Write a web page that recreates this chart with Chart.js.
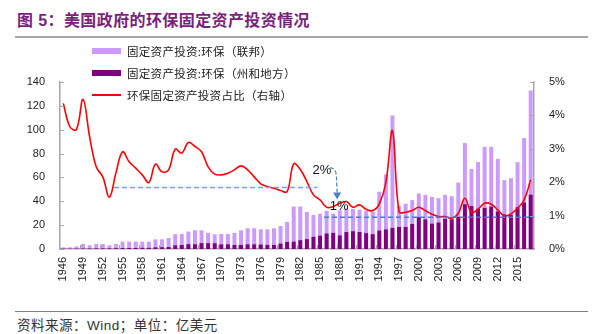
<!DOCTYPE html>
<html>
<head>
<meta charset="utf-8">
<script src="https://cdn.jsdelivr.net/npm/chart.js@4.4.1/dist/chart.umd.min.js"></script>
<style>
body { margin: 0; background: #fff; width: 596px; height: 334px; position: relative; overflow: hidden; font-family: "Liberation Sans", "Noto Sans CJK SC", sans-serif; }
#title { position: absolute; left: 17px; top: 7px; font-size: 16px; letter-spacing: 0.4px; font-weight: bold; color: #7b1f7f; white-space: nowrap; }
#titleLine { position: absolute; left: 15px; top: 36px; width: 573px; height: 2px; background: #a6a6a6; }
#footLine { position: absolute; left: 15px; top: 311px; width: 573px; height: 1px; background: #7f7f7f; }
#source { position: absolute; left: 17px; top: 314px; font-size: 13.5px; letter-spacing: 0.5px; color: #333; white-space: nowrap; }
#chartBox { position: absolute; left: 0; top: 40px; width: 596px; height: 262px; }
#legend { position: absolute; left: 92px; top: 40px; font-family: "Noto Sans CJK SC", sans-serif; font-size: 11.5px; letter-spacing: 0.3px; color: #222; }
.item { height: 22px; display: flex; align-items: center; white-space: nowrap; }
.sw { width: 29px; margin-right: 6px; }
</style>
</head>
<body>
<div id="title">图 5：美国政府的环保固定资产投资情况</div>
<div id="titleLine"></div>
<div id="chartBox"><canvas id="chart" width="596" height="262"></canvas></div>
<div id="legend"></div>
<div id="footLine"></div>
<div id="source">资料来源：Wind；单位：亿美元</div>
<script>
const years = [
  '1946','1947','1948','1949','1950','1951','1952','1953','1954','1955',
  '1956','1957','1958','1959','1960','1961','1962','1963','1964','1965',
  '1966','1967','1968','1969','1970','1971','1972','1973','1974','1975',
  '1976','1977','1978','1979','1980','1981','1982','1983','1984','1985',
  '1986','1987','1988','1989','1990','1991','1992','1993','1994','1995',
  '1996','1997','1998','1999','2000','2001','2002','2003','2004','2005',
  '2006','2007','2008','2009','2010','2011','2012','2013','2014','2015',
  '2016','2017'
];

// 固定资产投资:环保（联邦），亿美元
const federal = [
  1.4, 1.4, 2.2, 4.2, 3.1, 4.2, 4.2, 3.1, 4.2, 6.2,
  6.2, 6.2, 6.2, 6.2, 8.1, 8.1, 9.2, 12.4, 12.6, 14.6,
  15.7, 15.7, 13.5, 12.3, 12.6, 12.6, 13.5, 15.7, 17.4, 17.4,
  16.5, 16.5, 17.4, 19.3, 22.7, 35.6, 35.6, 31, 28.5, 29.5,
  32, 29.5, 32.5, 34, 33.5, 33, 32, 31.5, 48, 62.5,
  112, 36, 38, 41, 46.5, 45.4, 43.7, 42.6, 45.4, 44.3,
  55.7, 88.8, 67, 72.8, 85.7, 85.7, 75.6, 57.7, 59.4, 72.8,
  93, 132.8
];

// 固定资产投资:环保（州和地方），亿美元
const stateLocal = [
  0.3, 0.3, 0.4, 0.5, 0.5, 0.6, 0.6, 0.6, 0.7, 0.8,
  0.8, 0.9, 1.0, 1.0, 1.4, 1.5, 1.7, 3.1, 3.4, 4.0,
  4.0, 4.9, 4.9, 4.8, 3.9, 3.9, 3.4, 3.4, 3.9, 3.9,
  3.7, 3.4, 3.4, 4.5, 5.9, 6.2, 7.4, 8.3, 10.2, 11.1,
  13, 13.5, 11.4, 14.2, 14.9, 14.2, 13.3, 12.4, 15.4, 16.4,
  17.7, 18.5, 18.5, 21, 26.7, 24.8, 21.2, 22.2, 25.3, 24.8,
  27, 37.5, 36, 33.8, 34.5, 35.5, 31.5, 29, 28.5, 35,
  39, 45.5
];

// 环保固定资产投资占比（右轴），%
const share = [
  4.36, 3.66, 3.58, 4.48, 3.36, 2.46, 2.16, 1.55, 2.28, 2.91,
  2.61, 2.42, 2.22, 1.99, 2.54, 2.31, 2.37, 2.99, 2.87, 3.19,
  3.07, 2.91, 2.46, 2.24, 2.22, 2.27, 2.37, 2.49, 2.37, 2.16,
  1.95, 1.87, 1.82, 1.75, 1.72, 2.55, 2.38, 2.02, 1.62, 1.47,
  1.25, 1.27, 1.37, 1.42, 1.25, 1.32, 1.19, 1.15, 1.35, 1.99,
  3.54, 1.12, 1.10, 1.15, 1.25, 1.15, 1.04, 0.97, 0.97, 0.92,
  1.07, 1.52, 1.09, 1.19, 1.37, 1.34, 1.17, 0.99, 1.05, 1.22,
  1.47, 2.07
];

const leftTicks = [0, 20, 40, 60, 80, 100, 120, 140];
const rightTicks = [0, 1, 2, 3, 4, 5];

const seriesNames = ['固定资产投资:环保（联邦）', '固定资产投资:环保（州和地方）', '环保固定资产投资占比（右轴）'];
const colors = { federal: '#cc99ff', stateLocal: '#800080', share: '#ff0000', axis: '#a6a6a6' };

// annotations: [x index, value]
const guide1 = { value: 51.5, from: 7.7, to: 38.6 };   // left axis
const guide2 = { value: 0.95, from: 39.6 };            // right axis
const label2pct = { text: '2%', at: 39.3, value: 66 };
const label1pct = { text: '1%', at: 41.9, value: 36 };
const arrow = { from: [40.95, 68], to: [41.6, 41.5] };

// legend
const legend = document.getElementById('legend');
seriesNames.forEach((name, i) => {
    const row = document.createElement('div');
    row.className = 'item';
    const sw = document.createElement('span');
    sw.className = 'sw';
    if (i === 2) {
        sw.style.height = '2px';
        sw.style.background = colors.share;
    } else {
        sw.style.height = '6px';
        sw.style.background = i === 0 ? colors.federal : colors.stateLocal;
    }
    row.appendChild(sw);
    row.appendChild(document.createTextNode(name));
    legend.appendChild(row);
});

const notes = {
    id: 'notes',
    afterDatasetsDraw(chart) {
        const { ctx, chartArea } = chart;
        const { x, y, y1 } = chart.scales;
        ctx.save();

        // inner tick marks
        ctx.strokeStyle = colors.axis;
        ctx.lineWidth = 1;
        ctx.beginPath();
        leftTicks.forEach(v => {
            const py = Math.round(y.getPixelForValue(v)) + 0.5;
            ctx.moveTo(chartArea.left, py);
            ctx.lineTo(chartArea.left + 4, py);
        });
        rightTicks.forEach(v => {
            const py = Math.round(y1.getPixelForValue(v)) + 0.5;
            ctx.moveTo(chartArea.right - 4, py);
            ctx.lineTo(chartArea.right, py);
        });
        for (let i = 3; i < years.length; i += 3) {
            const px = Math.round(x.getPixelForValue(i - 0.5)) + 0.5;
            ctx.moveTo(px, chartArea.bottom);
            ctx.lineTo(px, chartArea.bottom - 4);
        }
        ctx.stroke();

        // dashed guides
        ctx.lineWidth = 1.5;
        ctx.setLineDash([5, 3]);
        ctx.strokeStyle = '#3dbde8';
        ctx.beginPath();
        let py = y.getPixelForValue(guide1.value);
        ctx.moveTo(x.getPixelForValue(guide1.from), py);
        ctx.lineTo(x.getPixelForValue(guide1.to), py);
        ctx.stroke();

        ctx.strokeStyle = '#2a8ad6';
        ctx.beginPath();
        py = y1.getPixelForValue(guide2.value);
        ctx.moveTo(x.getPixelForValue(guide2.from), py);
        ctx.lineTo(chartArea.right, py);
        ctx.stroke();

        // arrow
        const ax0 = x.getPixelForValue(arrow.from[0]), ay0 = y.getPixelForValue(arrow.from[1]);
        const ax1 = x.getPixelForValue(arrow.to[0]), ay1 = y.getPixelForValue(arrow.to[1]);
        ctx.strokeStyle = '#4f81bd';
        ctx.lineWidth = 1.2;
        ctx.setLineDash([4, 2]);
        ctx.beginPath();
        ctx.moveTo(ax0 - 3, ay0);
        ctx.quadraticCurveTo(ax0 + 3, ay0, ax0 + 3.5, ay0 + 8);
        ctx.lineTo(ax1, ay1 - 6);
        ctx.stroke();
        ctx.setLineDash([]);
        ctx.fillStyle = '#4f81bd';
        ctx.beginPath();
        ctx.moveTo(ax1 - 4, ay1 - 7);
        ctx.lineTo(ax1 + 4, ay1 - 7);
        ctx.lineTo(ax1, ay1);
        ctx.closePath();
        ctx.fill();

        // labels
        ctx.fillStyle = '#111';
        ctx.font = '13px "Liberation Sans", Arial, sans-serif';
        ctx.textAlign = 'center';
        ctx.textBaseline = 'middle';
        [label2pct, label1pct].forEach(l => {
            ctx.fillText(l.text, x.getPixelForValue(l.at), y.getPixelForValue(l.value));
        });
        ctx.restore();
    }
};

const tickFont = { family: '"Liberation Sans", Arial, sans-serif', size: 11 };

new Chart(document.getElementById('chart'), {
    type: 'bar',
    data: {
        labels: years,
        datasets: [
            {
                label: seriesNames[0],
                data: federal,
                backgroundColor: colors.federal,
                barPercentage: 0.6,
                categoryPercentage: 1,
                grouped: false,
                yAxisID: 'y',
                order: 2
            },
            {
                label: seriesNames[1],
                data: stateLocal,
                backgroundColor: colors.stateLocal,
                barPercentage: 0.6,
                categoryPercentage: 1,
                grouped: false,
                yAxisID: 'y',
                order: 1
            },
            {
                type: 'line',
                label: seriesNames[2],
                data: share,
                borderColor: colors.share,
                borderWidth: 1.6,
                pointRadius: 0,
                tension: 0.4,
                fill: false,
                yAxisID: 'y1',
                order: 0
            }
        ]
    },
    options: {
        responsive: false,
        animation: false,
        layout: { padding: { top: 42, left: 0, right: 0, bottom: 0 } },
        plugins: {
            legend: { display: false },
            tooltip: { enabled: false }
        },
        scales: {
            x: {
                grid: { display: false, drawTicks: false },
                border: { color: colors.axis, width: 1.5 },
                ticks: {
                    autoSkip: false,
                    minRotation: 90,
                    maxRotation: 90,
                    padding: 8,
                    color: '#222',
                    font: tickFont,
                    callback: (v, i) => (i % 3 === 0 ? years[i] : null)
                },
                afterFit: s => { s.height = 53; }
            },
            y: {
                position: 'left',
                min: 0,
                max: 140,
                grid: { display: false, drawTicks: false },
                border: { color: colors.axis, width: 1.5 },
                ticks: { stepSize: 20, padding: 15, color: '#222', font: tickFont },
                afterFit: s => { s.width = 60; }
            },
            y1: {
                position: 'right',
                min: 0,
                max: 5,
                grid: { display: false, drawTicks: false },
                border: { color: colors.axis, width: 1.5 },
                ticks: { stepSize: 1, padding: 15, color: '#222', font: tickFont, callback: v => v + '%' },
                afterFit: s => { s.width = 62; }
            }
        }
    },
    plugins: [notes]
});
</script>
</body>
</html>
